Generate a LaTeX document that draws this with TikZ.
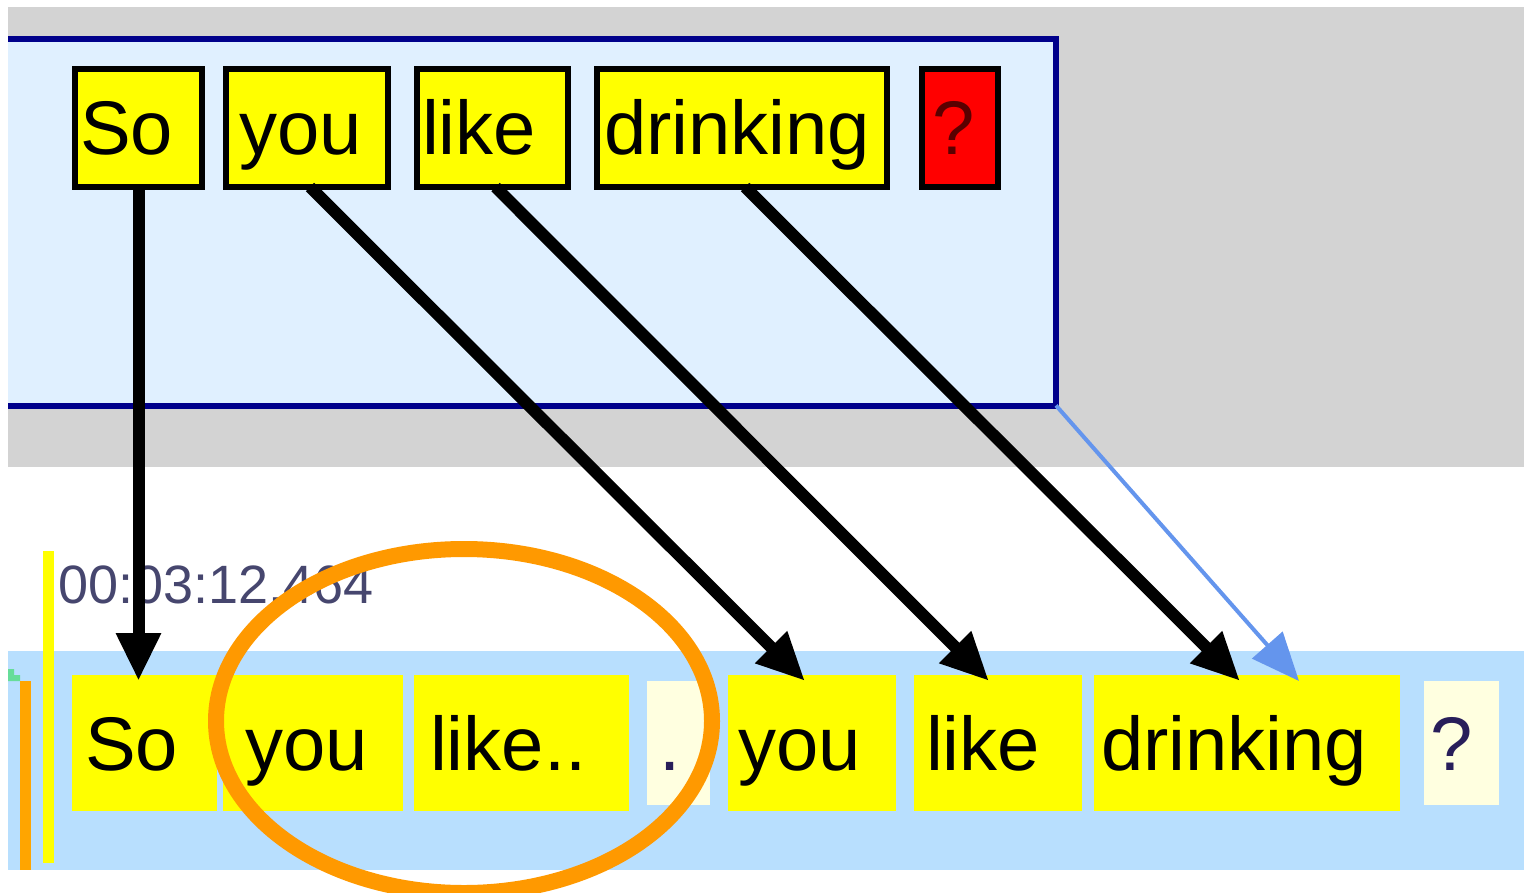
\documentclass[tikz,border=0pt]{standalone}
\usepackage{fontspec}
\setmainfont{Liberation Sans}
\usetikzlibrary{arrows.meta,calc}
\definecolor{panelgray}{RGB}{211,211,211}
\definecolor{framefill}{RGB}{224,240,255}
\definecolor{framedge}{RGB}{0,0,139}
\definecolor{bandblue}{RGB}{184,223,254}
\definecolor{cream}{RGB}{255,255,224}
\definecolor{wordyellow}{RGB}{255,255,0}
\definecolor{wordred}{RGB}{255,0,0}
\definecolor{ringorange}{RGB}{255,153,0}
\definecolor{barorange}{RGB}{255,165,0}
\definecolor{markgreen}{RGB}{102,221,153}
\definecolor{linkblue}{RGB}{100,149,237}
\definecolor{stampcol}{RGB}{70,70,110}
\definecolor{qred}{RGB}{90,0,0}
\definecolor{dotcol}{RGB}{40,30,90}
\newcommand\wordfont{\fontsize{38}{38}\selectfont}
\newcommand\stampfont{\fontsize{27}{27}\selectfont}
\tikzset{
  wtxt/.style={font=\wordfont, text height=30pt, text depth=3pt, inner ysep=0pt, align=left, outer sep=0pt},
  topbox/.style={wtxt, draw=black, line width=3pt, fill=wordyellow, minimum height=59pt},
  qbox/.style={wtxt, draw=black, line width=3pt, fill=wordred, text=qred, minimum height=59pt},
  botbox/.style={wtxt, fill=wordyellow, minimum height=68pt},
  creambox/.style={wtxt, fill=cream, text=dotcol, minimum height=62pt},
  link/.style={line width=6pt, -{Triangle[length=24pt,width=21pt]}},
  bluelink/.style={line width=2pt, linkblue, -{Triangle[length=24pt,width=20pt]}},
}
\begin{document}
\begin{tikzpicture}[x=0.5pt,y=-0.5pt]
\path[use as bounding box] (0,0) rectangle (1524,893);
\clip (0,0) rectangle (1524,893);
% top grey panel
\fill[panelgray] (8,7) rectangle (1524,467);
% sentence frame
\node[fill=framefill, minimum width=524pt, minimum height=183pt, inner sep=0pt, outer sep=0pt, anchor=north west] (frame) at (8,39.5) {};
\draw[framedge, line width=3pt] (frame.north west) -- (frame.north east) -- (frame.south east) -- (frame.south west);
% top word boxes
\node[topbox, minimum width=63.5pt, inner xsep=2.5pt, text width=58.5pt] (tSo) at (138.5,128) {So};
\node[topbox, minimum width=81pt, inner xsep=6.5pt, text width=68pt] (tyou) at (307,128) {you};
\node[topbox, minimum width=75.5pt, inner xsep=2.5pt, text width=70.5pt] (tlike) at (492.5,128) {like};
\node[topbox, minimum width=145pt, inner xsep=3.5pt, text width=138pt] (tdrink) at (742,128) {drinking};
\node[qbox, minimum width=38pt, inner xsep=5pt, text width=28pt] (tq) at (960,128) {?};
% bottom band
\fill[bandblue] (8,651) rectangle (1524,870);
\fill[markgreen] (8,669) -- (14,669) -- (14,675) -- (20,675) -- (20,681) -- (8,681) -- cycle;
\fill[barorange] (20,681) rectangle (31,870);
\fill[wordyellow] (43,551) rectangle (54,863);
% bottom word boxes
\node[botbox, minimum width=72.5pt, inner xsep=6.5pt, text width=59.5pt] (bSo) at (144.5,743) {So};
\node[botbox, minimum width=90pt, inner xsep=11pt, text width=68pt] (byou) at (313,743) {you};
\node[botbox, minimum width=107.5pt, inner xsep=8pt, text width=91.5pt] (blike) at (521.5,743) {like..};
\node[creambox, minimum width=31.5pt, inner xsep=6pt, text width=19.5pt] (bdot) at (678.5,743) {.};
\node[botbox, minimum width=84pt, inner xsep=5pt, text width=74pt] (byou2) at (812,743) {you};
\node[botbox, minimum width=84pt, inner xsep=6pt, text width=72pt] (blike2) at (998,743) {like};
\node[botbox, minimum width=153pt, inner xsep=3.5pt, text width=146pt] (bdrink) at (1247,743) {drinking};
\node[creambox, minimum width=37.5pt, inner xsep=3pt, text width=31.5pt] (bq) at (1461.5,743) {?};
% timestamp
\node[font=\stampfont, text=stampcol, anchor=base west, inner sep=0pt] (stamp) at (58,603) {00:03:12.464};
% highlight ring
\draw[ringorange, line width=8pt] (464,721) ellipse [x radius=124pt, y radius=86pt];
% alignment links
\draw[link] (tSo.south) -- ($(tSo.south |- bSo.north)+(0,6)$);
\draw[link] ($(tyou.south)+(3,0)$) -- ($(byou2.north)+(-7,6)$);
\draw[link] ($(tlike.south)+(3,0)$) -- ($(blike2.north)+(-9,6)$);
\draw[link] ($(tdrink.south)+(3,0)$) -- ($(bdrink.north)+(-7,6)$);
\draw[bluelink] (frame.south east) -- ($(bdrink.north)+(52,6)$);
\end{tikzpicture}
\end{document}
